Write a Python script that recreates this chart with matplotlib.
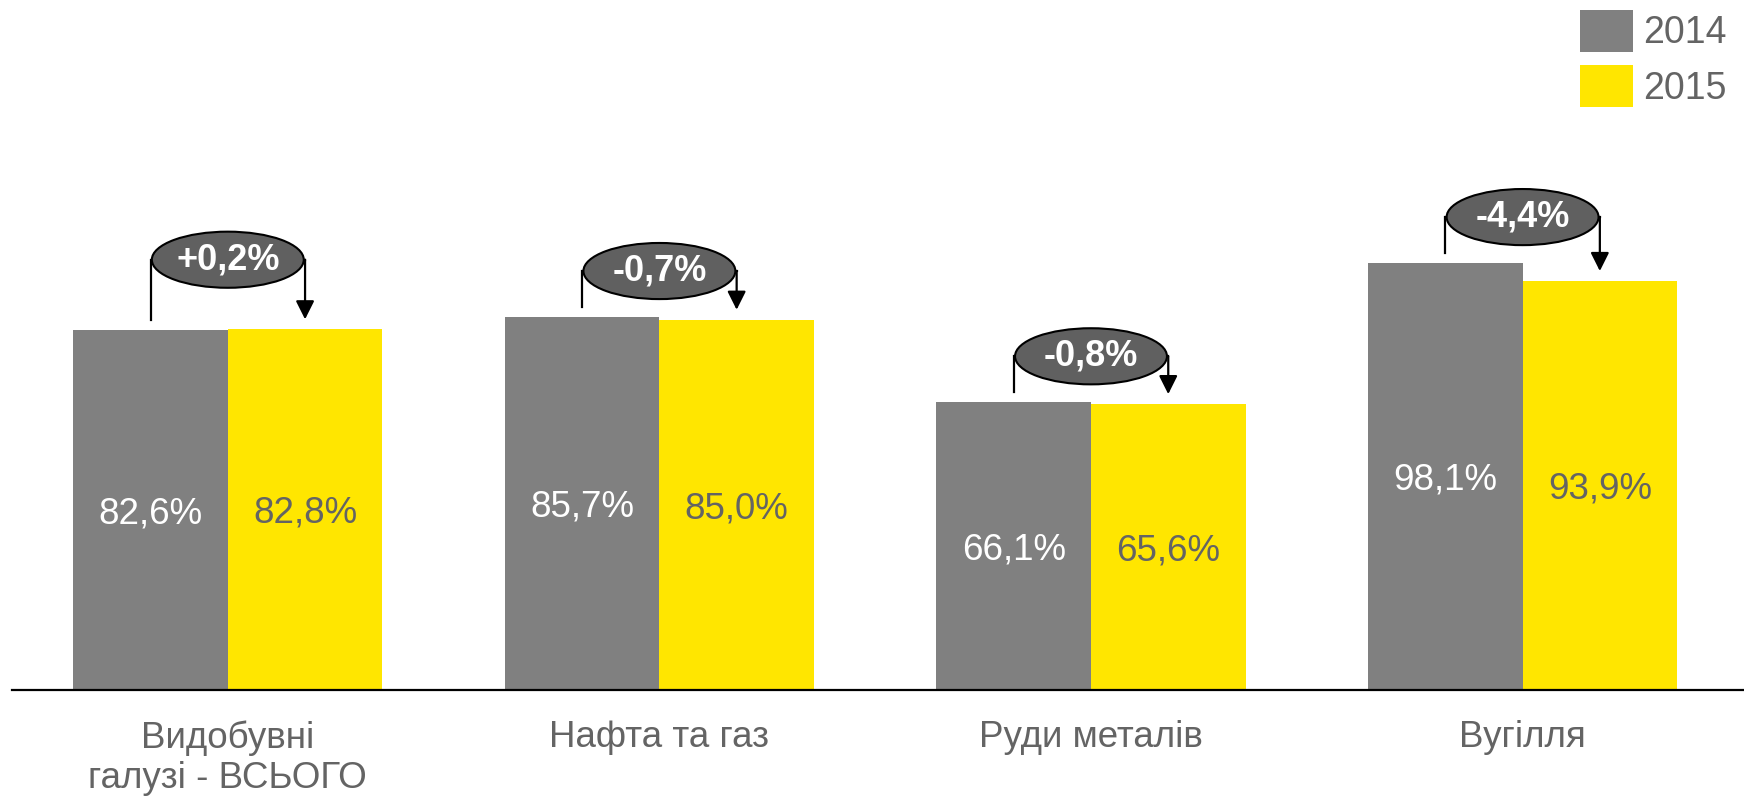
import matplotlib
matplotlib.use("Agg")
import matplotlib.pyplot as plt
from matplotlib.patches import Ellipse, Patch
import numpy as np

categories = ["Видобувні\nгалузі - ВСЬОГО", "Нафта та газ", "Руди металів", "Вугілля"]
values_2014 = [82.6, 85.7, 66.1, 98.1]
values_2015 = [82.8, 85.0, 65.6, 93.9]
labels_2014 = ["82,6%", "85,7%", "66,1%", "98,1%"]
labels_2015 = ["82,8%", "85,0%", "65,6%", "93,9%"]
change_labels = ["+0,2%", "-0,7%", "-0,8%", "-4,4%"]
series_names = ["2014", "2015"]

GRAY = "#808080"
YELLOW = "#FFE600"
TEXT = "#646464"
ELL = "#606060"
FONT = "Liberation Sans"

plt.rcParams['font.family'] = [FONT, 'DejaVu Sans']

fig = plt.figure(figsize=(17.44, 7.99), dpi=100)
ax = fig.add_axes([12 / 1744, 0.137, 1 - 12 / 1744, 0.863])
ax.set_xlim(-0.5, 3.513)
ax.set_ylim(0, 158.5)

x = np.arange(len(categories))
w = 0.358
ax.bar(x - w, values_2014, width=w, align='edge', color=GRAY, linewidth=0)
ax.bar(x, values_2015, width=w, align='edge', color=YELLOW, linewidth=0)

for i in range(len(categories)):
    ax.text(x[i] - w / 2, values_2014[i] / 2, labels_2014[i], ha='center', va='center_baseline',
            fontsize=26.5, color='white')
    ax.text(x[i] + w / 2, values_2015[i] / 2, labels_2015[i], ha='center', va='center_baseline',
            fontsize=26.5, color=TEXT)
    ax.text(x[i], -0.044, categories[i], transform=ax.get_xaxis_transform(),
            ha='center', va='top', fontsize=26.5, color=TEXT, linespacing=1.2)

# change annotations
ell_offsets = [16.0, 10.5, 10.5, 10.5]
gap = 2.3
ell_w = 0.352
ell_h = 12.9
for i in range(len(categories)):
    top = max(values_2014[i], values_2015[i])
    cy = values_2014[i] + ell_offsets[i] if i else top + ell_offsets[i]
    xl = x[i] - w / 2
    xr = x[i] + w / 2
    ax.plot([xl, xl, x[i] - ell_w / 2], [values_2014[i] + gap, cy, cy],
            color='black', lw=1.6, solid_joinstyle='miter', zorder=3)
    ax.plot([x[i] + ell_w / 2, xr], [cy, cy], color='black', lw=1.6, zorder=3)
    ax.annotate('', xy=(xr, values_2015[i] + gap), xytext=(xr, cy),
                arrowprops=dict(arrowstyle='-|>', lw=1.6, color='black',
                                mutation_scale=28, shrinkA=0, shrinkB=0), zorder=3)
    ax.add_patch(Ellipse((x[i], cy), ell_w, ell_h, facecolor=ELL, edgecolor='black',
                         lw=1.5, zorder=4))
    ax.text(x[i], cy, change_labels[i], ha='center', va='center', fontsize=26,
            fontweight='bold', color='white', zorder=5)

for s in ['top', 'right', 'left']:
    ax.spines[s].set_visible(False)
ax.spines['bottom'].set_linewidth(1.6)
ax.spines['bottom'].set_color('black')
ax.set_xticks([])
ax.set_yticks([])

handles = [Patch(facecolor=GRAY, edgecolor='none'), Patch(facecolor=YELLOW, edgecolor='none')]
fig.legend(handles, series_names, loc='upper left', bbox_to_anchor=(1580 / 1744, 1 - 10 / 799),
           frameon=False, fontsize=27, handlelength=1.42, handleheight=1.33,
           handletextpad=0.25, labelspacing=0.37, borderpad=0, borderaxespad=0,
           labelcolor=TEXT)

fig.savefig("out.png", dpi=100)
